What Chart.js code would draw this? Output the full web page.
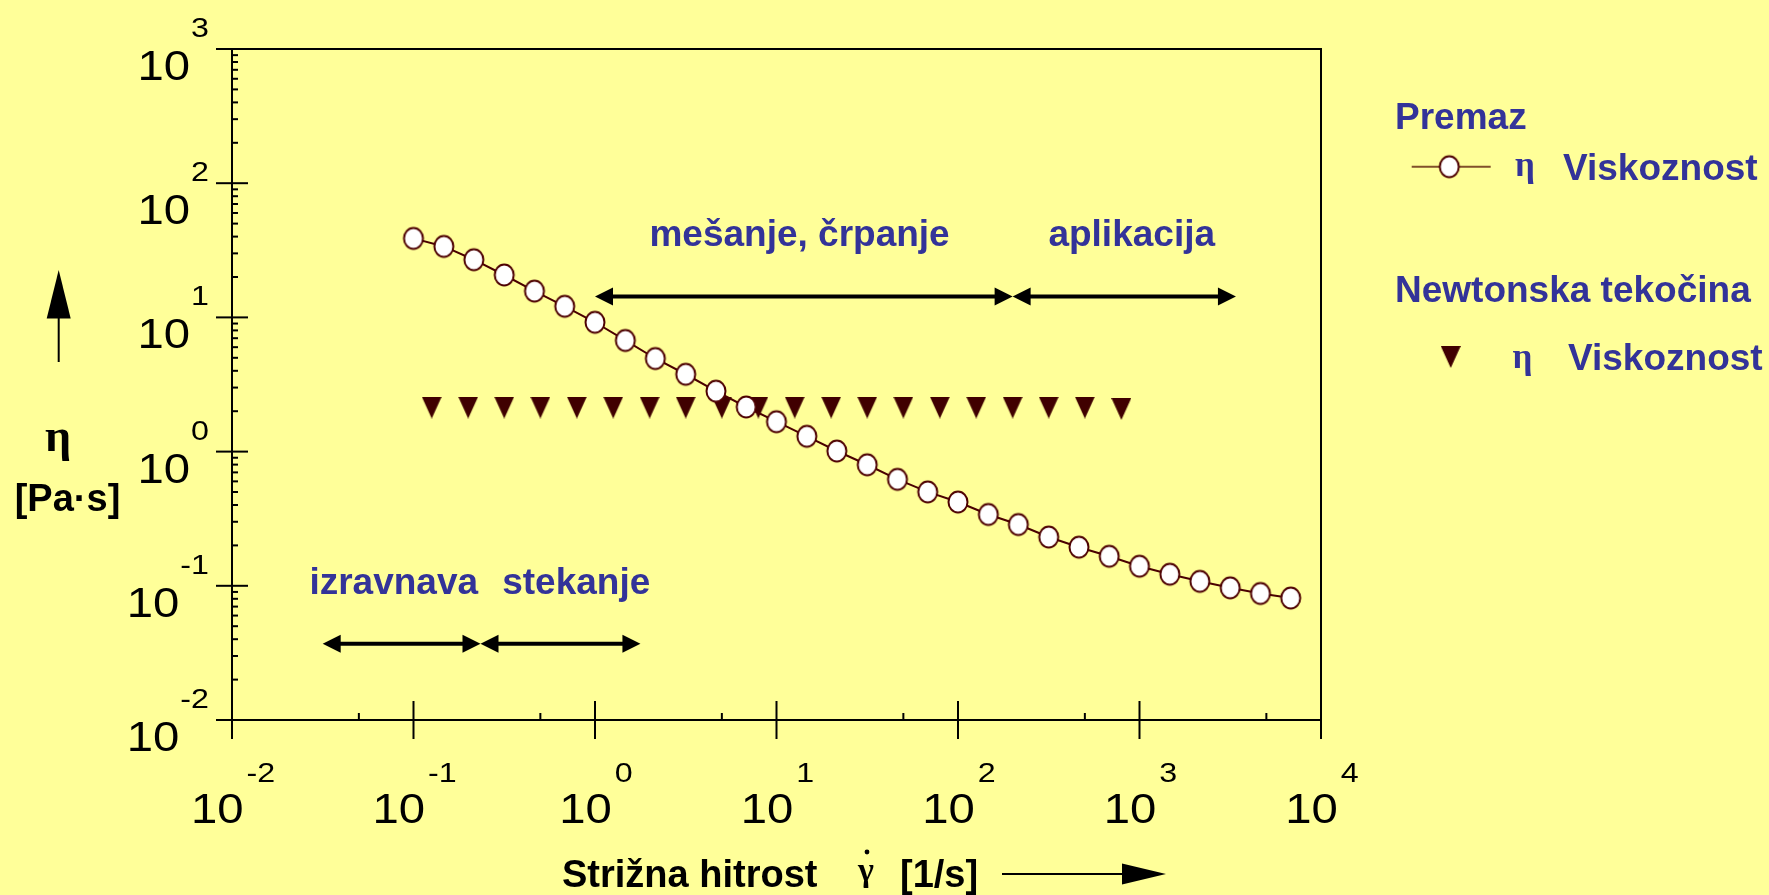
<!DOCTYPE html>
<html>
<head>
<meta charset="utf-8">
<script src="https://cdn.jsdelivr.net/npm/chart.js@4.4.1/dist/chart.umd.min.js"></script>
<style>
  html, body { margin: 0; padding: 0; background: #ffff99; overflow: hidden; }
  canvas { display: block; }
</style>
</head>
<body>
<canvas id="c" width="1769" height="895"></canvas>
<script>
// Premaz (coating): viscosity vs shear rate
const shearRatePremaz = [0.1, 0.147, 0.215, 0.316, 0.464, 0.681, 1.0, 1.47, 2.15, 3.16,
                         4.64, 6.81, 10, 14.7, 21.5, 31.6, 46.4, 68.1, 100, 147,
                         215, 316, 464, 681, 1000, 1470, 2150, 3160, 4640, 6810];
const viscosityPremaz = [38.8, 33.8, 26.9, 20.7, 15.7, 12.1, 9.2, 6.73, 4.94, 3.77,
                         2.82, 2.15, 1.67, 1.30, 1.01, 0.798, 0.621, 0.501, 0.421, 0.340,
                         0.286, 0.231, 0.194, 0.166, 0.140, 0.122, 0.108, 0.0966, 0.0877, 0.0811];

// Newtonian fluid: constant viscosity
const shearRateNewton = [0.126, 0.2, 0.316, 0.5, 0.794, 1.26, 2, 3.16, 5, 7.94,
                         12.6, 20, 31.6, 50, 79.4, 126, 200, 316, 500, 794];
const viscosityNewton = [2.13, 2.13, 2.13, 2.13, 2.13, 2.13, 2.13, 2.13, 2.13, 2.13,
                         2.13, 2.13, 2.13, 2.13, 2.13, 2.13, 2.13, 2.13, 2.13, 2.08];

// Axis decades (exponents of ten)
const xDecades = [-2, -1, 0, 1, 2, 3, 4];
const yDecades = [-2, -1, 0, 1, 2, 3];

// Process ranges of shear rate
const rangeNames  = ['izravnava', 'stekanje', 'mešanje, črpanje', 'aplikacija'];
const rangeFrom   = [0.0316, 0.234, 1.0, 200];
const rangeTo     = [0.234, 1.78, 200, 3400];
const rangeLevel  = [0.037, 0.037, 14.3, 14.3];
const rangeLabelX = [0.0778, 0.788, 13.4, 906];
const rangeLabelY = [0.0866, 0.0866, 34.2, 34.2];

const seriesNames = ['Premaz', 'Newtonska tekočina'];
const seriesLabel = 'Viskoznost';

const BLUE = '#333399';
const SANS = '"Liberation Sans", Arial, sans-serif';
const SERIF = '"Liberation Serif", "Times New Roman", serif';

function circleMarker() {
  const c = document.createElement('canvas');
  c.width = 24; c.height = 26;
  const g = c.getContext('2d');
  g.beginPath();
  g.ellipse(12, 13, 9.5, 10.5, 0, 0, Math.PI * 2);
  g.fillStyle = '#ffffff';
  g.fill();
  g.lineWidth = 2;
  g.strokeStyle = '#4d0000';
  g.stroke();
  return c;
}

function triangleMarker() {
  const c = document.createElement('canvas');
  c.width = 20; c.height = 22;
  const g = c.getContext('2d');
  g.beginPath();
  g.moveTo(0, 0); g.lineTo(20, 0); g.lineTo(10, 22); g.closePath();
  g.fillStyle = '#400000';
  g.fill();
  return c;
}

const circleImg = circleMarker();
const triangleImg = triangleMarker();

function seg(ctx, x1, y1, x2, y2) {
  ctx.beginPath(); ctx.moveTo(x1, y1); ctx.lineTo(x2, y2); ctx.stroke();
}

function doubleArrow(ctx, x1, x2, y) {
  const hl = 18, hw = 9;
  ctx.lineWidth = 4;
  seg(ctx, x1 + hl - 2, y, x2 - hl + 2, y);
  ctx.beginPath();
  ctx.moveTo(x1, y); ctx.lineTo(x1 + hl, y - hw); ctx.lineTo(x1 + hl, y + hw); ctx.closePath();
  ctx.fill();
  ctx.beginPath();
  ctx.moveTo(x2, y); ctx.lineTo(x2 - hl, y - hw); ctx.lineTo(x2 - hl, y + hw); ctx.closePath();
  ctx.fill();
}

// tick label text is a slightly wide face: draw it stretched horizontally
const BASE_FONT = '43px ' + SANS, BASE_STRETCH = 1.1;
const EXP_FONT = '28px ' + SANS, EXP_STRETCH = 1.15;

function wideWidth(ctx, text, font, k) {
  ctx.font = font;
  return ctx.measureText(text).width * k;
}
function wideText(ctx, text, font, k, x, y) {
  ctx.save();
  ctx.font = font;
  ctx.translate(x, y);
  ctx.scale(k, 1);
  ctx.fillText(text, 0, 0);
  ctx.restore();
}

// the 10^2 label on the y axis sits a little lower than the others
const yLabelShift = { 2: 10 };

const axesPlugin = {
  id: 'logFrame',
  beforeDatasetsDraw(chart) {
    const { ctx, chartArea: a, scales: { x, y } } = chart;
    ctx.save();
    ctx.strokeStyle = '#000';
    ctx.lineWidth = 2;
    ctx.beginPath();
    ctx.moveTo(a.left, a.bottom); ctx.lineTo(a.left, a.top);
    ctx.lineTo(a.right, a.top); ctx.lineTo(a.right, a.bottom);
    ctx.closePath();
    ctx.stroke();

    // y axis ticks
    yDecades.forEach((d, i) => {
      const v = Math.pow(10, d);
      const py = y.getPixelForValue(v);
      seg(ctx, a.left - 16, py, a.left + 16, py);
      if (i < yDecades.length - 1) {
        for (let m = 2; m <= 9; m++) {
          const pm = y.getPixelForValue(m * v);
          seg(ctx, a.left, pm, a.left + 6, pm);
        }
      }
    });
    // x axis ticks
    xDecades.forEach((d, i) => {
      const v = Math.pow(10, d);
      const px = x.getPixelForValue(v);
      seg(ctx, px, a.bottom - 19, px, a.bottom + 19);
      if (i < xDecades.length - 1) {
        const pm = x.getPixelForValue(5 * v);
        seg(ctx, pm, a.bottom, pm, a.bottom - 7);
      }
    });
    ctx.restore();
  },
  afterDraw(chart) {
    const { ctx, chartArea: a, scales: { x, y } } = chart;
    ctx.save();
    ctx.fillStyle = '#000';
    ctx.textAlign = 'left';
    ctx.textBaseline = 'alphabetic';

    // y tick labels: 10 with raised exponent, right aligned
    yDecades.forEach(d => {
      const py = y.getPixelForValue(Math.pow(10, d)) + (yLabelShift[d] || 0);
      const e = String(d);
      const ew = wideWidth(ctx, e, EXP_FONT, EXP_STRETCH);
      const bw = wideWidth(ctx, '10', BASE_FONT, BASE_STRETCH);
      const xr = 209;
      wideText(ctx, e, EXP_FONT, EXP_STRETCH, xr - ew, py - 12);
      wideText(ctx, '10', BASE_FONT, BASE_STRETCH, xr - ew - 1 - bw, py + 31);
    });

    // x tick labels: centred on the tick
    xDecades.forEach(d => {
      const px = x.getPixelForValue(Math.pow(10, d));
      const e = String(d);
      const ew = wideWidth(ctx, e, EXP_FONT, EXP_STRETCH);
      const bw = wideWidth(ctx, '10', BASE_FONT, BASE_STRETCH);
      const gw = bw + 3 + ew;
      const x0 = px + 1 - gw / 2;
      wideText(ctx, '10', BASE_FONT, BASE_STRETCH, x0, a.bottom + 103);
      wideText(ctx, e, EXP_FONT, EXP_STRETCH, x0 + bw + 3, a.bottom + 61.5);
    });

    // y axis title with arrow
    ctx.fillStyle = '#000';
    ctx.strokeStyle = '#000';
    ctx.lineWidth = 2;
    seg(ctx, 58.7, 316, 58.7, 362);
    ctx.beginPath();
    ctx.moveTo(58.7, 270); ctx.lineTo(46.7, 318.5); ctx.lineTo(70.7, 318.5); ctx.closePath();
    ctx.fill();
    ctx.textAlign = 'center';
    ctx.font = 'bold 46px ' + SERIF;
    ctx.fillText('η', 58, 451);
    ctx.font = 'bold 38px ' + SANS;
    ctx.fillText('[Pa·s]', 67.5, 511);

    // x axis title with arrow
    ctx.textAlign = 'left';
    ctx.font = 'bold 38px ' + SANS;
    ctx.fillText('Strižna hitrost', 562, 887);
    ctx.font = 'bold 34px ' + SERIF;
    ctx.fillText('γ', 858, 881);
    ctx.beginPath();
    ctx.arc(867, 852, 2.4, 0, Math.PI * 2);
    ctx.fill();
    ctx.font = 'bold 38px ' + SANS;
    ctx.fillText('[1/s]', 900, 887);
    seg(ctx, 1002, 874, 1124, 874);
    ctx.beginPath();
    ctx.moveTo(1166, 874); ctx.lineTo(1122, 863.5); ctx.lineTo(1122, 884.5); ctx.closePath();
    ctx.fill();

    // process ranges
    ctx.fillStyle = '#000';
    ctx.strokeStyle = '#000';
    rangeNames.forEach((name, i) => {
      const py = y.getPixelForValue(rangeLevel[i]);
      doubleArrow(ctx, x.getPixelForValue(rangeFrom[i]), x.getPixelForValue(rangeTo[i]), py);
    });
    ctx.fillStyle = BLUE;
    ctx.font = 'bold 37px ' + SANS;
    ctx.textAlign = 'center';
    rangeNames.forEach((name, i) => {
      ctx.fillText(name, x.getPixelForValue(rangeLabelX[i]), y.getPixelForValue(rangeLabelY[i]));
    });

    // legend
    const ds = chart.data.datasets;
    ctx.textAlign = 'left';
    ctx.fillStyle = BLUE;
    ctx.font = 'bold 37px ' + SANS;
    ctx.fillText(seriesNames[0], 1395, 128.5);
    ctx.fillText(seriesNames[1], 1395, 301.5);
    ctx.fillText(seriesLabel, 1563, 179.5);
    ctx.fillText(seriesLabel, 1568, 370);
    ctx.font = 'bold 35px ' + SERIF;
    ctx.fillText('η', 1515, 176);
    ctx.fillText('η', 1512.5, 367.5);

    ctx.strokeStyle = '#80502a';
    ctx.lineWidth = 2;
    seg(ctx, 1411.7, 166.7, 1490.7, 166.7);
    const im0 = ds[0].pointStyle, im1 = ds[1].pointStyle;
    ctx.drawImage(im0, 1449.3 - im0.width / 2, 166.7 - im0.height / 2);
    ctx.drawImage(im1, 1450.7 - im1.width / 2, 357 - im1.height / 2);
    ctx.restore();
  }
};

const premazPoints = shearRatePremaz.map((v, i) => ({ x: v, y: viscosityPremaz[i] }));
const newtonPoints = shearRateNewton.map((v, i) => ({ x: v, y: viscosityNewton[i] }));

new Chart(document.getElementById('c'), {
  type: 'scatter',
  data: {
    datasets: [
      {
        label: seriesNames[0],
        data: premazPoints,
        showLine: true,
        borderColor: '#4a0000',
        borderWidth: 2,
        pointStyle: circleImg,
        pointRadius: 10,
        pointHoverRadius: 10
      },
      {
        label: seriesNames[1],
        data: newtonPoints,
        showLine: false,
        pointStyle: triangleImg,
        pointRadius: 11,
        pointHoverRadius: 11
      }
    ]
  },
  options: {
    responsive: false,
    animation: false,
    devicePixelRatio: 1,
    layout: { padding: { left: 232, top: 49, right: 448, bottom: 175 } },
    plugins: { legend: { display: false }, tooltip: { enabled: false } },
    events: [],
    scales: {
      x: { type: 'logarithmic', min: 0.01, max: 10000, display: false },
      y: { type: 'logarithmic', min: 0.01, max: 1000, display: false }
    }
  },
  plugins: [axesPlugin]
});
</script>
</body>
</html>
